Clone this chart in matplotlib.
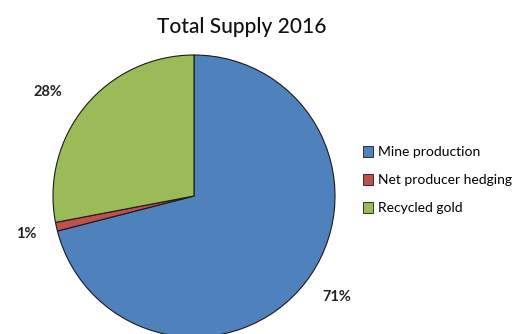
import matplotlib
matplotlib.use('Agg')
import numpy as np
import matplotlib.pyplot as plt

# gold supply shares, 2016
sources = ['Mine production', 'Net producer hedging', 'Recycled gold']
shares = [71, 1, 28]
colors = ['#4F81BD', '#C0504D', '#9BBB59']

plt.rcParams['font.family'] = ['Lato', 'DejaVu Sans']

fig = plt.figure(figsize=(5.24, 3.34), dpi=100)
fig.patch.set_facecolor('white')
ax = fig.add_axes([0, 0, 1, 1])

wedges, texts = ax.pie(shares, colors=colors, startangle=90, counterclock=False,
                       radius=1.0, center=(0, 0),
                       wedgeprops=dict(edgecolor='#1a1a1a', linewidth=0.8))

# data labels just outside each wedge (angle nudge in degrees, radius)
nudges = [(2.6, 1.24), (0.0, 1.22), (4.0, 1.27)]
for w, val, (dang, r) in zip(wedges, shares, nudges):
    ang = np.deg2rad(0.5 * (w.theta1 + w.theta2) + dang)
    ax.text(r * np.cos(ang), r * np.sin(ang), '%d%%' % val, ha='center', va='center',
            fontsize=10.5, fontweight='bold', color='#222222')

# one pie radius = 141 px
ax.set_xlim(-194/141., 330/141.)
ax.set_ylim(-138/141., 196/141.)
ax.set_aspect('equal')
ax.axis('off')

fig.text(0.462, 0.918, 'Total Supply 2016', ha='center', va='center', fontsize=15,
         fontweight='medium', color='#111111')

leg = ax.legend(wedges, sources, loc='center left', bbox_to_anchor=(0.668, 0.46),
                bbox_transform=fig.transFigure, frameon=False, fontsize=10,
                handlelength=0.75, handleheight=0.75, handletextpad=0.35, labelspacing=1.15)
for h in leg.legend_handles:
    h.set_linewidth(0.6)

fig.savefig('out.png', dpi=100, facecolor='white')
